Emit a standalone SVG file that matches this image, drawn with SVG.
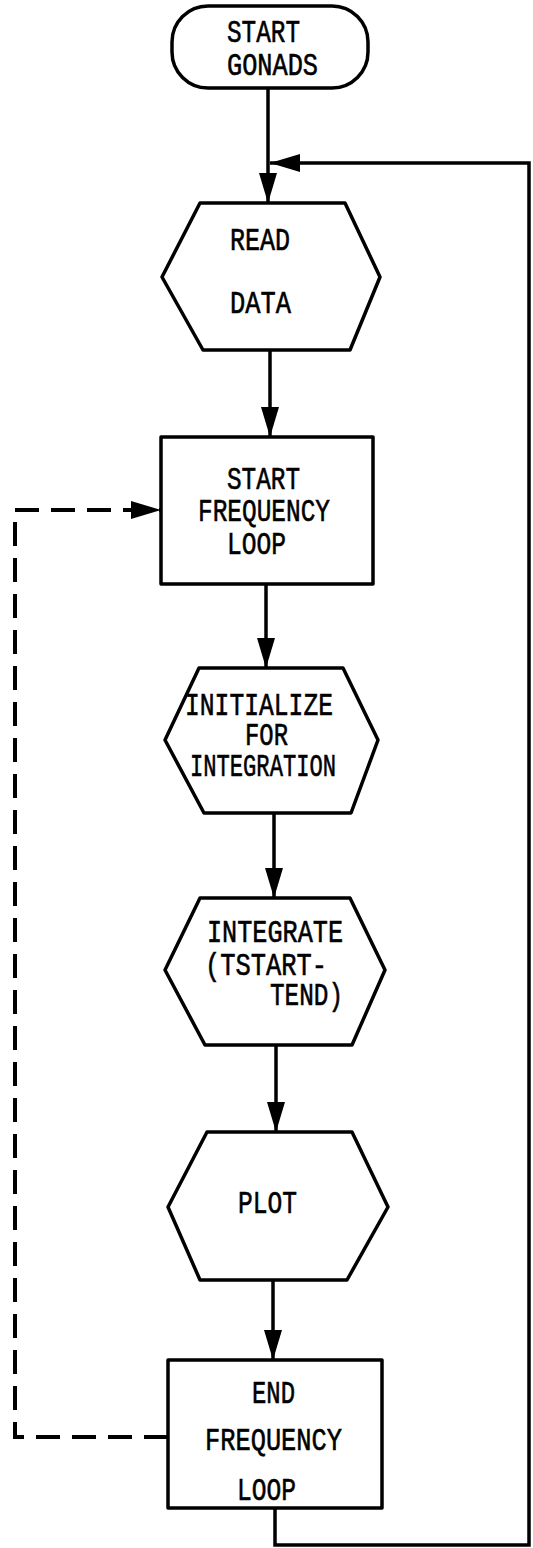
<svg xmlns="http://www.w3.org/2000/svg" width="533" height="1548" viewBox="0 0 533 1548">
  <style>
    .shape { fill: #ffffff; stroke: #000000; stroke-width: 3.5; stroke-linejoin: round; }
    .label { font-family: "Liberation Mono", "DejaVu Sans Mono", monospace; font-size: 32px; fill: #000000; stroke: #000000; stroke-width: 0.6; }
    .flow { fill: none; stroke: #000000; stroke-width: 3.5; }
    .dash { fill: none; stroke: #000000; stroke-width: 4; stroke-dasharray: 24 12; }
  </style>
  <defs>
    <marker id="arrow" markerUnits="userSpaceOnUse" markerWidth="30" markerHeight="18" refX="30" refY="9" orient="auto">
      <path d="M0,0 L30,9 L0,18 Z" fill="#000000"/>
    </marker>
  </defs>
  <rect width="533" height="1548" fill="#ffffff"/>

  <!-- connectors -->
  <g id="connectors">
    <path class="flow" d="M268,88 V203" marker-end="url(#arrow)"/>
    <path class="flow" d="M275,1508 V1545 H529 V163 H270" marker-end="url(#arrow)"/>
    <path class="flow" d="M270,350 V437" marker-end="url(#arrow)"/>
    <path class="flow" d="M266,584 V668" marker-end="url(#arrow)"/>
    <path class="flow" d="M274,813 V898" marker-end="url(#arrow)"/>
    <path class="flow" d="M276,1045 V1132" marker-end="url(#arrow)"/>
    <path class="flow" d="M273,1280 V1360" marker-end="url(#arrow)"/>
    <path class="dash" d="M168,1437 H15 V510 H161" marker-end="url(#arrow)"/>
  </g>

  <!-- start terminal -->
  <g id="start-gonads">
    <rect class="shape" x="172" y="6" width="196" height="82" rx="36" ry="36"/>
    <text class="label" x="227" y="42" textLength="73" lengthAdjust="spacingAndGlyphs">START</text>
    <text class="label" x="227" y="75" textLength="91" lengthAdjust="spacingAndGlyphs">GONADS</text>
  </g>

  <!-- read data -->
  <g id="read-data">
    <polygon class="shape" points="200,203 345,203 380,277 350,350 203,350 162,277"/>
    <text class="label" x="230" y="250" textLength="60" lengthAdjust="spacingAndGlyphs">READ</text>
    <text class="label" x="230" y="313" textLength="61" lengthAdjust="spacingAndGlyphs">DATA</text>
  </g>

  <!-- start frequency loop -->
  <g id="start-frequency-loop">
    <rect class="shape" x="161" y="437" width="212" height="147"/>
    <text class="label" x="227" y="489" textLength="73" lengthAdjust="spacingAndGlyphs">START</text>
    <text class="label" x="198" y="521" textLength="132" lengthAdjust="spacingAndGlyphs">FREQUENCY</text>
    <text class="label" x="227" y="554" textLength="59" lengthAdjust="spacingAndGlyphs">LOOP</text>
  </g>

  <!-- initialize for integration -->
  <g id="initialize">
    <polygon class="shape" points="199,668 343,668 378,740 351,813 204,813 165,740"/>
    <text class="label" x="185" y="715" textLength="148" lengthAdjust="spacingAndGlyphs">INITIALIZE</text>
    <text class="label" x="245" y="745" textLength="43" lengthAdjust="spacingAndGlyphs">FOR</text>
    <text class="label" x="190" y="776" textLength="146" lengthAdjust="spacingAndGlyphs">INTEGRATION</text>
  </g>

  <!-- integrate -->
  <g id="integrate">
    <polygon class="shape" points="200,898 350,898 385,970 352,1045 205,1045 165,970"/>
    <text class="label" x="207" y="942" textLength="136" lengthAdjust="spacingAndGlyphs">INTEGRATE</text>
    <text class="label" x="205" y="975" textLength="122" lengthAdjust="spacingAndGlyphs">(TSTART-</text>
    <text class="label" x="270" y="1005" textLength="73" lengthAdjust="spacingAndGlyphs">TEND)</text>
  </g>

  <!-- plot -->
  <g id="plot">
    <polygon class="shape" points="207,1132 352,1132 388,1207 347,1280 200,1280 168,1207"/>
    <text class="label" x="238" y="1213" textLength="59" lengthAdjust="spacingAndGlyphs">PLOT</text>
  </g>

  <!-- end frequency loop -->
  <g id="end-frequency-loop">
    <rect class="shape" x="168" y="1360" width="214" height="148"/>
    <text class="label" x="252" y="1403" textLength="43" lengthAdjust="spacingAndGlyphs">END</text>
    <text class="label" x="205" y="1450" textLength="137" lengthAdjust="spacingAndGlyphs">FREQUENCY</text>
    <text class="label" x="237" y="1500" textLength="59" lengthAdjust="spacingAndGlyphs">LOOP</text>
  </g>
</svg>
